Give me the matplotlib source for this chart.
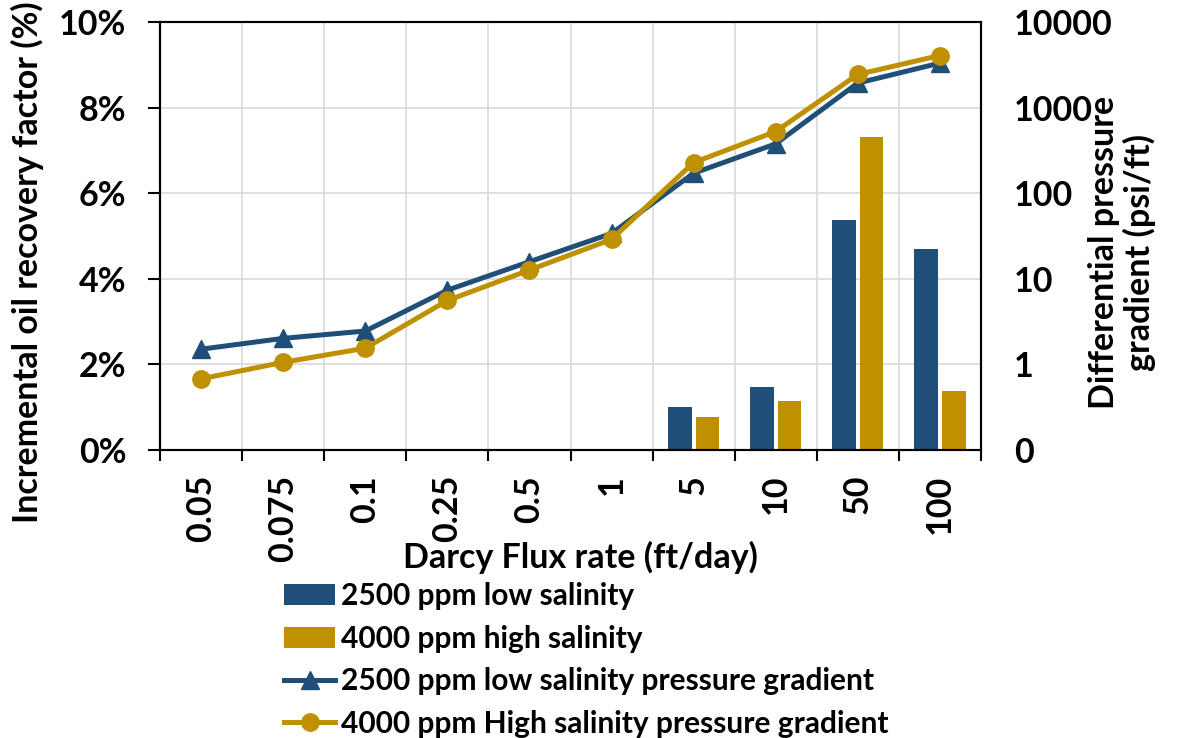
import matplotlib
matplotlib.use('Agg')
import matplotlib.pyplot as plt
import numpy as np
from matplotlib.ticker import PercentFormatter, FuncFormatter, FixedLocator, NullLocator

plt.rcParams['font.family'] = ['Lato', 'DejaVu Sans']
plt.rcParams['font.weight'] = 'bold'

# Darcy flux rates (ft/day)
flux_labels = ['0.05', '0.075', '0.1', '0.25', '0.5', '1', '5', '10', '50', '100']

# incremental oil recovery factor (%), only measured at the higher rates
rf_low_sal = [np.nan, np.nan, np.nan, np.nan, np.nan, np.nan, 1.00, 1.47, 5.37, 4.69]
rf_high_sal = [np.nan, np.nan, np.nan, np.nan, np.nan, np.nan, 0.77, 1.15, 7.31, 1.38]

# differential pressure gradient (psi/ft)
dp_low_sal = [1.51, 2.02, 2.46, 7.4, 15.9, 34, 172, 379, 1945, 3333]
dp_high_sal = [0.68, 1.06, 1.55, 5.6, 12.7, 29, 229, 528, 2454, 4090]

BLUE = '#1F4E79'
GOLD = '#BF9000'
GRID = '#d9d9d9'
FS = 24.5

W, H = 1177, 738
fig = plt.figure(figsize=(W / 100, H / 100), dpi=100)


def fx(px):
    return px / W


def fy(py):
    return 1 - py / H


ax = fig.add_axes([fx(160.3), fy(450), fx(980.7) - fx(160.3), fy(22.3) - fy(450)])
x = np.arange(len(flux_labels))
bw = 0.29
ax.bar(x - 0.17, rf_low_sal, bw, color=BLUE, label='2500 ppm low salinity', zorder=2)
ax.bar(x + 0.17, rf_high_sal, bw, color=GOLD, label='4000 ppm high salinity', zorder=2)
ax.set_xlim(-0.5, len(x) - 0.5)
ax.set_ylim(0, 10)
ax.yaxis.set_major_locator(FixedLocator(np.arange(0, 11, 2)))
ax.yaxis.set_major_formatter(PercentFormatter(100, decimals=0))
ax.set_xticks(x)
ax.set_xticklabels(flux_labels, rotation=90)
ax.set_xticks(np.arange(-0.5, len(x)), minor=True)
ax.tick_params(axis='x', which='major', length=0, pad=18, labelsize=FS)
ax.tick_params(axis='x', which='minor', length=8, width=1.5, direction='out')
ax.tick_params(axis='y', length=8.5, width=1.5, pad=16, labelsize=FS)
ax.grid(axis='y', color=GRID, lw=1.2)
ax.grid(axis='x', which='minor', color=GRID, lw=1.2)
ax.set_axisbelow(True)
for s in ax.spines.values():
    s.set_linewidth(1.5)

# pressure gradients on a log axis to the right
ax2 = ax.twinx()
ax2.set_yscale('log')
ax2.set_ylim(0.1, 10000)
ax2.plot(x, dp_low_sal, color=BLUE, lw=3.6, marker='^', ms=12.5,
         label='2500 ppm low salinity pressure gradient')
ax2.plot(x, dp_high_sal, color=GOLD, lw=3.6, marker='o', ms=12.5,
         label='4000 ppm High salinity pressure gradient')
ax2.yaxis.set_major_locator(FixedLocator([0.1, 1, 10, 100, 1000, 10000]))
ax2.yaxis.set_major_formatter(FuncFormatter(lambda v, p: f'{v:.0f}'))
ax2.yaxis.set_minor_locator(NullLocator())
ax2.tick_params(axis='y', length=0, pad=24, labelsize=FS)
for s in ax2.spines.values():
    s.set_linewidth(1.5)

h1, l1 = ax.get_legend_handles_labels()
h2, l2 = ax2.get_legend_handles_labels()
fig.legend(h1 + h2, l1 + l2, loc='upper left', bbox_to_anchor=(fx(284), fy(582)),
           frameon=False, fontsize=21.5, handlelength=1.72, handletextpad=0.2,
           labelspacing=0.49, borderpad=0, borderaxespad=0, numpoints=1)

fig.text(fx(27), fy(262), 'Incremental oil recovery factor (%)', rotation=90,
         ha='center', va='center', fontsize=FS)
fig.text(fx(580), fy(557), 'Darcy Flux rate (ft/day)', ha='center', va='center', fontsize=FS)
fig.text(fx(1122), fy(252), 'Differential pressure\ngradient (psi/ft)', rotation=90,
         ha='center', va='center', multialignment='center', fontsize=FS, linespacing=1.1)

fig.savefig('out.png', dpi=100)
